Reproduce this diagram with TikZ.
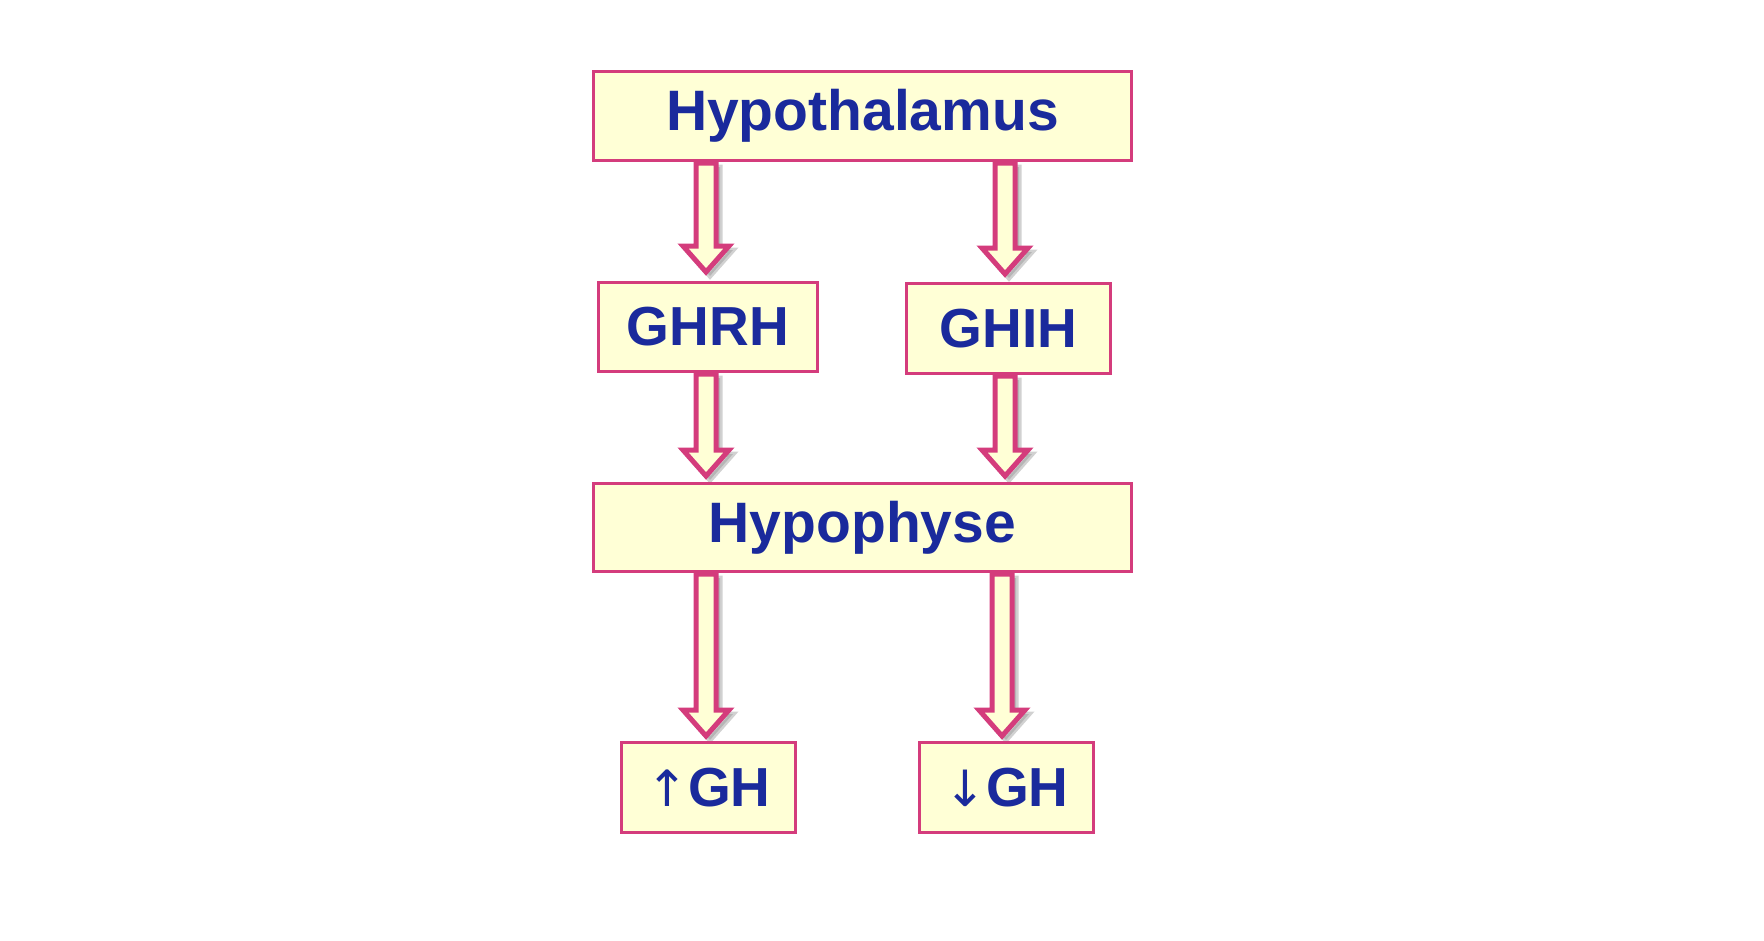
\documentclass[tikz,border=0pt]{standalone}
\usepackage{fontspec}
\setmainfont{Liberation Sans}
\newfontfamily\symf{DejaVu Sans}
\usetikzlibrary{calc}
\definecolor{pinkb}{HTML}{D43C7C}
\definecolor{creamf}{HTML}{FFFFD6}
\definecolor{txtb}{HTML}{1A2A9C}
\tikzset{
 box/.style={draw=pinkb,line width=2.8pt,fill=creamf,text=txtb,font=\bfseries,inner sep=0pt,anchor=north west},
}
% #1 start coordinate, #2 end coordinate
\newcommand\fatarr[2]{%
 \path let \p1=(#1),\p2=(#2) in
  coordinate (s) at (\x1,\y1) coordinate (e) at (\x1,\y2);
 \foreach \o/\c/\dc/\op in {4/black!45/black!45/0.4,0/creamf/pinkb/1}{
 \begin{scope}[transform canvas={shift={(\o pt,-\o pt)}}]
 \filldraw[draw=\dc,fill=\c,line width=5pt,line join=miter,opacity=\op]
  ($(s)+(-10,0)$) -- ($(e)+(-10,-30)$) -- ($(e)+(-23,-30)$) -- ($(e)+(0,-4)$) -- ($(e)+(23,-30)$) -- ($(e)+(10,-30)$) -- ($(s)+(10,0)$) -- cycle;
 \end{scope}}
}
\begin{document}
\begin{tikzpicture}[x=1pt,y=-1pt]
\useasboundingbox (0,0) rectangle (1764,940);
\coordinate (a1s) at (706,163); \coordinate (a1e) at (706,276);
\coordinate (a2s) at (1005,163); \coordinate (a2e) at (1005,278);
\coordinate (a3s) at (706,374); \coordinate (a3e) at (706,480);
\coordinate (a4s) at (1005,376); \coordinate (a4e) at (1005,480);
\coordinate (a5s) at (706,574); \coordinate (a5e) at (706,740);
\coordinate (a6s) at (1002,574); \coordinate (a6e) at (1002,740);
\fatarr{a1s}{a1e}\fatarr{a2s}{a2e}\fatarr{a3s}{a3e}
\fatarr{a4s}{a4e}\fatarr{a5s}{a5e}\fatarr{a6s}{a6e}
\node[box,minimum width=538,minimum height=89,font=\bfseries\fontsize{57}{62}\selectfont] (hyp) at (592,70) {Hypothalamus};
\node[box,minimum width=219,minimum height=89,font=\bfseries\fontsize{55}{62}\selectfont] (ghrh) at (597,281) {GHRH};
\node[box,minimum width=204,minimum height=90,font=\bfseries\fontsize{55}{62}\selectfont] (ghih) at (905,282) {GHIH};
\node[box,minimum width=538,minimum height=88,font=\bfseries\fontsize{57}{62}\selectfont] (hpo) at (592,482) {Hypophyse};
\node[box,minimum width=174,minimum height=90,font=\bfseries\fontsize{55}{62}\selectfont] (up) at (620,741) {{\symf\mdseries\fontsize{50}{60}\selectfont ↑}GH};
\node[box,minimum width=174,minimum height=90,font=\bfseries\fontsize{55}{62}\selectfont] (dn) at (918,741) {{\symf\mdseries\fontsize{50}{60}\selectfont ↓}GH};
\end{tikzpicture}
\end{document}
